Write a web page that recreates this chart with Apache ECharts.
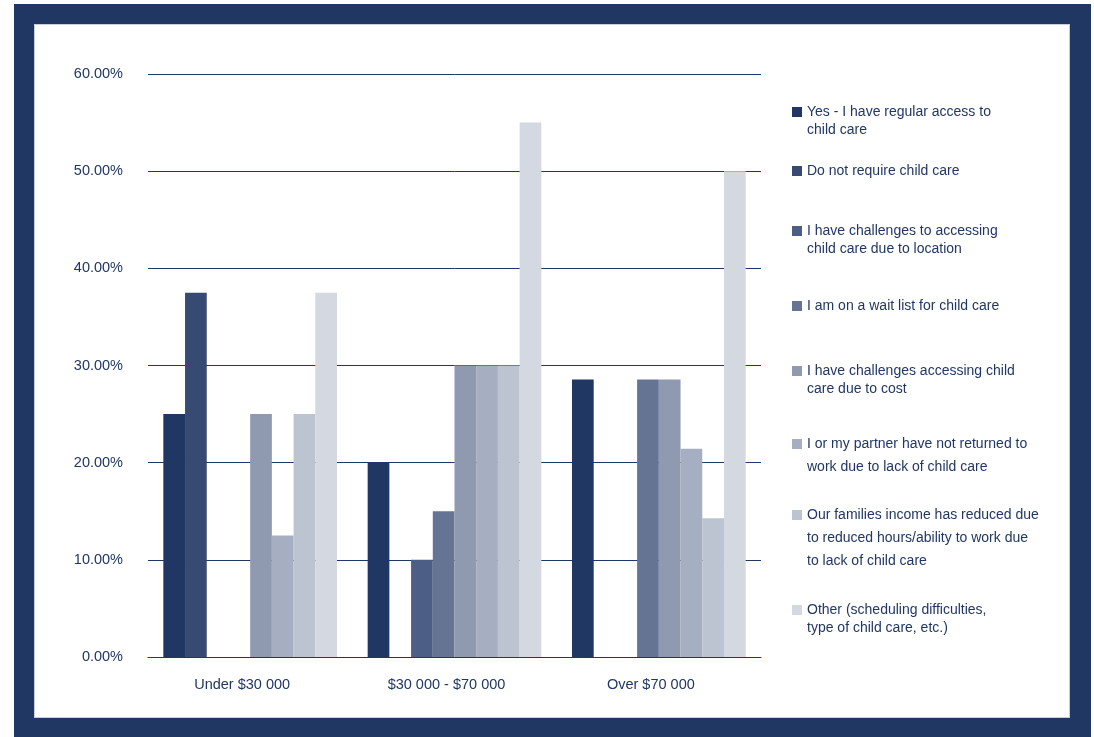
<!DOCTYPE html>
<html>
<head>
<meta charset="utf-8">
<script src="https://cdn.jsdelivr.net/npm/echarts@6/dist/echarts.min.js"></script>
<style>
  html, body { margin: 0; padding: 0; background: #fff; }
  #frame {
    position: absolute; left: 14px; top: 4px; width: 1077px; height: 733px;
    background: #213763;
  }
  #panel {
    position: absolute; left: 35px; top: 25px; width: 1034px; height: 692px;
    background: #fff; box-shadow: 0 0 0 1px #c9ced8;
  }
  #chart { position: absolute; left: 0; top: 0; width: 1094px; height: 737px; }
</style>
</head>
<body>
<div id="frame"></div>
<div id="panel"></div>
<div id="chart"></div>
<script>
const categories = ['Under $30 000', '$30 000 - $70 000', 'Over $70 000']

const seriesNames = [
  'Yes - I have regular access to child care',
  'Do not require child care',
  'I have challenges to accessing child care due to location',
  'I am on a wait list for child care',
  'I have challenges accessing child care due to cost',
  'I or my partner have not returned to work due to lack of child care',
  'Our families income has reduced due to reduced hours/ability to work due to lack of child care',
  'Other (scheduling difficulties, type of child care, etc.)'
]

// legend text as wrapped in the original
const legendLines = [
  ['Yes - I have regular access to', 'child care'],
  ['Do not require child care'],
  ['I have challenges to accessing', 'child care due to location'],
  ['I am on a wait list for child care'],
  ['I have challenges accessing child', 'care due to cost'],
  ['I or my partner have not returned to', 'work due to lack of child care'],
  ['Our families income has reduced due', 'to reduced hours/ability to work due', 'to lack of child care'],
  ['Other (scheduling difficulties,', 'type of child care, etc.)']
]

// percent per category, one array per series
const yesAccess = [25, 20, 28.57]
const notRequired = [37.5, 0, 0]
const locationIssue = [0, 10, 0]
const waitList = [0, 15, 28.57]
const costIssue = [25, 30, 28.57]
const notReturned = [12.5, 30, 21.43]
const incomeReduced = [25, 30, 14.29]
const other = [37.5, 55, 50]

const seriesValues = [yesAccess, notRequired, locationIssue, waitList, costIssue, notReturned, incomeReduced, other]

const yTicks = [0, 10, 20, 30, 40, 50, 60]

const colors = ['#213763', '#374a72', '#4c5e85', '#657493', '#8f9ab1', '#a5afc1', '#bcc3d1', '#d3d8e1']
const navy = '#213763'
const font = 'Liberation Sans'

// legend placement (top of icon) and line height per item
const legendTops = [107, 166, 226, 301, 366, 439, 510, 605]
const legendLineHeights = [18, 18, 18, 18, 18, 23, 23.3, 18]

function legendIcon(nLines, lh) {
  // square at top, invisible speck below so the text block lines up with the first line
  const h = 10 + (nLines - 1) * lh
  if (nLines === 1) return { icon: 'rect', h: 10 }
  return { icon: 'path://M0,0h10v10h-10z M0,' + (h - 0.01) + 'h0.01v0.01h-0.01z', h: h }
}

const legends = seriesNames.map((name, i) => {
  const n = legendLines[i].length
  const lh = legendLineHeights[i]
  const ic = legendIcon(n, lh)
  return {
    data: [{ name: name, icon: ic.icon }],
    left: 792,
    // text block sticks out above the icon by lh/2 - 5
    top: legendTops[i] - (lh / 2 - 5),
    padding: 0,
    itemWidth: 10,
    itemHeight: ic.h,
    itemGap: 0,
    selectedMode: false,
    formatter: () => legendLines[i].join('\n'),
    textStyle: {
      color: navy,
      fontFamily: font,
      fontSize: 14,
      lineHeight: lh
    }
  }
})

const chart = echarts.init(document.getElementById('chart'))
chart.setOption({
  backgroundColor: 'transparent',
  animation: false,
  color: colors,
  legend: legends,
  grid: { left: 148, right: 333, top: 74, bottom: 80 },
  xAxis: {
    type: 'category',
    data: categories,
    axisLine: { lineStyle: { color: navy, width: 1 } },
    axisTick: { show: false },
    axisLabel: {
      color: navy,
      fontFamily: font,
      fontSize: 14.5,
      margin: 20,
      padding: [0, 16, 0, 0]
    }
  },
  yAxis: {
    type: 'value',
    min: yTicks[0],
    max: yTicks[yTicks.length - 1],
    interval: 10,
    axisLine: { show: false },
    axisTick: { show: false },
    splitLine: { lineStyle: { color: navy, width: 1 } },
    axisLabel: {
      color: navy,
      fontFamily: font,
      fontSize: 14.5,
      margin: 25,
      formatter: v => v.toFixed(2) + '%'
    }
  },
  series: seriesNames.map((name, i) => ({
    name: name,
    type: 'bar',
    data: seriesValues[i],
    barGap: '0%',
    barCategoryGap: '15%'
  }))
})
</script>
</body>
</html>
